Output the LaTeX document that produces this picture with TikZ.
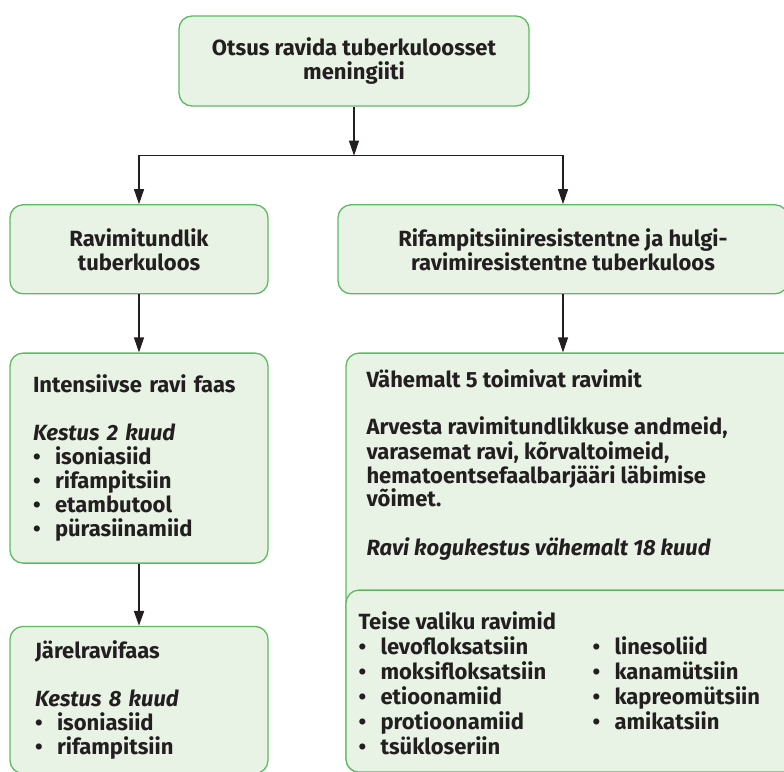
\documentclass[tikz,border=0pt]{standalone}
\usepackage{fontspec}
\setmainfont{Fira Sans}
\usetikzlibrary{arrows.meta,positioning}
\definecolor{Ink}{HTML}{231F20}
\definecolor{Leaf}{HTML}{5CBB60}
\definecolor{Mint}{HTML}{E8F3E5}
\newcommand{\drug}[1]{\makebox[22pt][l]{\textbullet}#1}
\tikzset{
  panel/.style={
    rounded corners=13pt, draw=Leaf, line width=1.3pt, fill=Mint,
    text=Ink, font=\fontsize{22pt}{24pt}\selectfont\bfseries, inner sep=0pt
  },
  headbox/.style={panel, minimum height=89pt, align=center},
  listbox/.style={panel, align=left},
  plain/.style={
    text=Ink, font=\fontsize{22pt}{24pt}\selectfont\bfseries,
    inner sep=0pt, align=left
  },
  flow/.style={-{Triangle[length=15pt,width=10pt]}, line width=1.1pt, draw=Ink},
  boldflow/.style={flow, line width=2.2pt}
}

\begin{document}
\begin{tikzpicture}
  \useasboundingbox (0,0) rectangle (784pt,-771pt);
  \node[headbox, minimum width=350pt, minimum height=90pt] (decision) at (354pt,-61pt)
    {Otsus ravida tuberkuloosset\\meningiiti};
  \coordinate[below=49pt of decision.south] (fork);
  \node[headbox, minimum width=258pt, below=97.5pt of decision.south, xshift=-215pt] (sens)
    {Ravimitundlik\\tuberkuloos};
  \node[headbox, minimum width=450pt, below=97.5pt of decision.south, xshift=209pt] (resist)
    {Rifampitsiiniresistentne ja hulgi-\\ravimiresistentne tuberkuloos};
  % ravimitundlik haru
  \node[listbox, text width=212pt, inner xsep=23pt, minimum height=210pt, below=58pt of sens] (intensive)
    {Intensiivse ravi faas\\[24pt]
     \textit{Kestus 2 kuud}\\
     \drug{isoniasiid}\\
     \drug{rifampitsiin}\\
     \drug{etambutool}\\
     \drug{pürasiinamiid}};
  \node[listbox, text width=208pt, inner xsep=25pt, minimum height=147pt, below=62pt of intensive] (followup)
    {Järelravifaas\\[24pt]
     \textit{Kestus 8 kuud}\\
     \drug{isoniasiid}\\
     \drug{rifampitsiin}};
  % resistentne haru
  \node[panel, minimum width=454pt, minimum height=419pt, below right=58pt and 8pt of resist.south west] (mdr) {};
  \node[plain, below right=16.5pt and 21pt of mdr.north west] (mdrtext)
    {Vähemalt 5 toimivat ravimit\\[24pt]
     Arvesta ravimitundlikkuse andmeid,\\
     varasemat ravi, kõrvaltoimeid,\\
     hematoentsefaalbarjääri läbimise\\
     võimet.\\[24pt]
     \textit{Ravi kogukestus vähemalt 18 kuud}};
  \node[panel, minimum width=454pt, minimum height=182pt, below right=237pt and 0pt of mdr.north west] (second) {};
  \node[plain, below right=22pt and 13pt of second.north west] (secondtext)
    {\begin{tabular}{@{}p{234pt}@{}l@{}}
       \multicolumn{2}{@{}l@{}}{Teise valiku ravimid}\\
       \drug{levofloksatsiin} & \drug{linesoliid}\\
       \drug{moksifloksatsiin} & \drug{kanamütsiin}\\
       \drug{etioonamiid} & \drug{kapreomütsiin}\\
       \drug{protioonamiid} & \drug{amikatsiin}\\
       \drug{tsükloseriin} & \\
     \end{tabular}};
  \draw[flow] (decision) -- (fork);
  \draw[flow] (fork) -| (sens);
  \draw[flow] (fork) -| (resist);
  \draw[flow] (sens) -- (intensive);
  \draw[boldflow] (intensive) -- (followup);
  \draw[flow] (resist) -- (resist.south |- mdr.north);
\end{tikzpicture}
\end{document}
